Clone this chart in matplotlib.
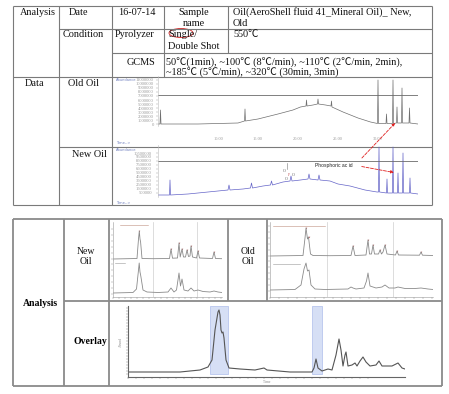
import numpy as np
import matplotlib.pyplot as plt
from matplotlib.patches import Ellipse

plt.rcParams['font.family'] = ['Liberation Serif', 'Noto Sans CJK SC', 'DejaVu Sans']

W, H = 449, 394

# ---- big chromatograms (time, abundance) ----
old_t = [0, 0.4, 0.5, 0.6, 8, 16, 17.3, 17.4, 17.5, 20, 24, 27, 28.5, 29.6, 29.7, 29.8,
         31, 31.9, 32, 32.1, 33.5, 34.6, 34.7, 34.8, 37, 40, 42.5, 43.9, 44, 44.1,
         45.6, 45.7, 45.8, 46.9, 47, 47.1, 47.7, 47.8, 47.9, 48.7, 48.8, 48.9,
         50.2, 50.3, 50.4, 52]
old_a = [0, 0, 14, 0, 0, 1, 3, 15, 3, 5, 10, 14, 17, 18, 24, 18,
         19, 20, 25, 20, 19, 18, 23, 17, 12, 6, 2, 0.5, 44, 0.5,
         0.5, 10, 0.5, 0.5, 44, 0.5, 1, 17, 1, 1, 36, 1,
         1, 16, 1, 0]
new_t = [0, 2.3, 2.4, 2.5, 6, 10, 14, 14.2, 14.4, 17, 18.5, 18.7, 18.9, 21, 22.5, 22.7,
         22.9, 25, 26.4, 26.6, 26.8, 28.5, 30, 30.2, 30.4, 32, 32.2, 32.4, 34.4, 36,
         38.4, 41.4, 43.8, 44.1, 44.2, 44.3, 45.7, 45.8, 45.9, 46.9, 47, 47.1,
         47.9, 48, 48.1, 48.9, 49, 49.1, 50.3, 50.4, 50.5, 52]
new_a = [0, 0, 15, 0, 1, 3, 5, 10, 5, 6, 7, 12, 7, 9, 10, 14,
         10, 13, 14, 19, 14, 15, 16, 21, 16, 15, 20, 15, 14, 11,
         9, 5, 3, 3, 48, 3, 2, 16, 2, 2, 48, 2,
         2, 22, 2, 2, 42, 2, 2, 17, 2, 1]
old_ticks = [12, 20, 28, 36, 44]
old_tick_labels = ['10.00', '15.00', '20.00', '25.00', '30.00']

# ---- small chromatograms ----
ns_top_t = [0, 24, 25.5, 26.3, 27, 27.6, 29, 40, 56.5, 58, 59.5, 64.5, 66, 67.2, 69, 70.5,
            72.5, 74, 75.5, 77, 78, 79.5, 83.5, 85, 86.5, 99.5, 101, 102.5, 109]
ns_top_a = [0, 0.5, 20, 28, 20, 17, 0.5, 0.3, 0.5, 10, 0.8, 1, 16, 2, 10, 2,
            2, 9, 2.5, 3, 13, 2, 1, 8, 1, 0.5, 7, 0.5, 0.3]
ns_bot_t = [0, 20, 23.5, 25.5, 26.2, 27, 27.8, 30, 34, 45, 55, 58, 61, 63.5, 66, 67.5,
            69, 71, 75, 78, 81, 85, 90, 97, 101, 105, 109]
ns_bot_a = [1, 1.5, 5, 24, 31, 22, 18, 4, 2, 1.5, 2, 6, 2, 4, 21, 8,
            15, 4, 3, 6, 3, 4, 2.5, 2, 3, 2, 1.5]
os_top_t = [0, 33, 35, 36, 37.5, 38.5, 39.3, 40.5, 43, 60, 81, 83, 85, 96, 98, 99.5,
            101.5, 103, 104.5, 108.5, 110, 111.5, 113, 115, 117, 125.5, 127, 128.5,
            149.5, 151, 152.5, 163]
os_top_a = [0, 0.5, 18, 28, 17, 19, 12, 2, 0.5, 0.3, 0.5, 10, 0.5, 1, 16, 2,
            2, 11, 2, 2, 6, 2, 4, 11, 2, 1, 5, 1,
            0.8, 4, 0.8, 0.5]
os_bot_t = [0, 25, 31, 34, 36, 37.5, 39, 41, 45, 55, 78, 81, 83, 86, 94, 96.5,
            98, 100, 103, 106, 112, 115, 119, 125, 128, 135, 145, 151, 158, 163]
os_bot_a = [1, 1.5, 6, 22, 28, 20, 21, 6, 2, 1.5, 2, 4, 3, 2, 3, 10,
            18, 5, 4, 3, 4, 6, 3, 3, 4, 2.5, 2.5, 3, 2, 1.5]
ns_marks_t = [26, 58, 66, 69, 74, 78, 85, 101]
ns_marks_a = [28, 10, 16, 10, 9, 13, 8, 7]
os_marks_t = [36, 38.5, 83, 98, 103, 110, 115, 127, 151]
os_marks_a = [28, 19, 10, 16, 11, 6, 11, 5, 4]
ns_vlines = [40, 84]
os_vlines = [57, 123]

# ---- overlay ----
ov_t = [0, 52, 72, 80, 84, 87, 90, 91, 92, 93, 94, 95, 96, 98, 101, 112, 127, 136, 139,
        162, 184, 186, 188, 190, 194, 200, 204, 208, 211, 213, 215, 217, 218, 220, 224,
        227, 229, 232, 235, 238, 242, 248, 251, 254, 264, 270, 274, 277]
ov_a = [5, 5, 7, 10, 17, 47, 65, 67, 62, 47, 44, 45, 39, 17, 9, 8, 7, 9, 7,
        5, 5, 9, 18, 9, 6, 8, 7, 22, 38, 27, 11, 22, 25, 11, 12,
        14, 11, 16, 20, 15, 11, 12, 16, 11, 11, 14, 9, 8]
ov_spans = [(82, 100), (184, 194)]

fig = plt.figure(figsize=(W / 100, H / 100), dpi=100)
base = fig.add_axes([0, 0, 1, 1])
base.set_xlim(0, W)
base.set_ylim(H, 0)
base.axis('off')


def px_axes(x0, y0, x1, y1):
    ax = fig.add_axes([x0 / W, 1 - y1 / H, (x1 - x0) / W, (y1 - y0) / H])
    ax.patch.set_alpha(0)
    for s in ax.spines.values():
        s.set_visible(False)
    ax.set_xticks([])
    ax.set_yticks([])
    return ax


# table rules
t1 = [((13, 6), (432, 6)), ((13, 205), (432, 205)), ((13, 6), (13, 205)), ((432, 6), (432, 205)),
      ((59, 6), (59, 205)), ((112, 6), (112, 205)), ((164, 6), (164, 77)), ((228, 6), (228, 53)),
      ((59, 29), (432, 29)), ((112, 53), (432, 53)), ((13, 77), (432, 77)), ((59, 147), (432, 147))]
t2 = [((13, 219), (442, 219)), ((13, 386), (442, 386)), ((13, 219), (13, 386)), ((442, 219), (442, 386)),
      ((64, 219), (64, 386)), ((109, 219), (109, 386)), ((228, 219), (228, 301)),
      ((267, 219), (267, 301)), ((64, 301), (442, 301))]
for (a, b) in t1:
    base.plot([a[0], b[0]], [a[1], b[1]], color='#7a7a7a', lw=0.8, solid_capstyle='butt')
for (a, b) in t2:
    base.plot([a[0], b[0]], [a[1], b[1]], color='#8a8a8a', lw=1.3, solid_capstyle='butt')

fs = 7.4
cells = [
    (20, 12, 'Analysis', 'left'), (78, 12, 'Date', 'center'), (118, 12, '16-07-14', 'left'),
    (194, 12, 'Sample', 'center'), (194, 23, 'name', 'center'),
    (233, 12, 'Oil(AeroShell fluid 41_Mineral Oil)_ New,', 'left'), (233, 23, 'Old', 'left'),
    (63, 34, 'Condition', 'left'), (115, 34, 'Pyrolyzer', 'left'),
    (168, 34, 'Single/', 'left'), (168, 46, 'Double Shot', 'left'), (233, 34, '550℃', 'left'),
    (127, 62, 'GCMS', 'left'),
    (166, 62, '50℃(1min), ~100℃ (8℃/min), ~110℃ (2℃/min, 2min),', 'left'),
    (166, 72, '~185℃ (5℃/min), ~320℃ (30min, 3min)', 'left'),
    (35, 83, 'Data', 'center'), (83, 83, 'Old Oil', 'center'), (89, 154, 'New Oil', 'center'),
]
for x, y, s, ha in cells:
    base.text(x, y, s, ha=ha, va='center', fontsize=fs, color='#111111')
for x, y, s in [(86, 251, 'New'), (86, 262, 'Oil'), (248, 251, 'Old'), (248, 262, 'Oil')]:
    base.text(x, y, s, ha='center', va='center', fontsize=7, color='#111111')
base.text(40, 304, 'Analysis', ha='center', va='center', fontsize=7, fontweight='bold')
base.text(90, 341, 'Overlay', ha='center', va='center', fontsize=7, fontweight='bold')
base.add_patch(Ellipse((181, 33), 24, 9, fill=False, ec='#d02020', lw=0.6))

tiny = dict(fontsize=2.6, color='#7080c0', family='DejaVu Sans')
base.text(116, 80, 'Abundance', va='center', **tiny)
base.text(116, 143, 'Time-->', va='center', **tiny)
base.text(116, 150, 'Abundance', va='center', **tiny)
base.text(116, 203, 'Time-->', va='center', **tiny)

# ---- old oil ----
ax_old = px_axes(158, 76, 418, 126)
ax_old.plot(old_t, old_a, color='#6f6f6f', lw=0.5)
ax_old.axhline(29, color='#6a6a6a', lw=0.6)
ax_old.set_xlim(0, 52)
ax_old.set_ylim(-2, 48)
ax_old.spines['left'].set_visible(True)
ax_old.spines['left'].set_color('#bbbbbb')
ax_old.spines['left'].set_linewidth(0.4)
ax_old.set_yticks(np.arange(0, 48, 4))
ax_old.set_yticklabels([f'{int(v * 250000)}' for v in np.arange(0, 48, 4)])
ax_old.set_xticks(old_ticks)
ax_old.set_xticklabels(old_tick_labels)
ax_old.tick_params(axis='y', length=1.5, width=0.3, labelsize=3.3, colors='#999999', pad=1.5)
ax_old.tick_params(axis='x', length=0, labelsize=3.2, colors='#999999', pad=8)

# ---- new oil ----
ax_new = px_axes(158, 145, 418, 197)
ax_new.plot(new_t, new_a, color='#6464c8', lw=0.5)
ax_new.axhline(34, color='#6a6a6a', lw=0.6)
ax_new.set_xlim(0, 52)
ax_new.set_ylim(-2, 50)
ax_new.spines['left'].set_visible(True)
ax_new.spines['left'].set_color('#bbbbbb')
ax_new.spines['left'].set_linewidth(0.4)
ax_new.set_yticks(np.arange(2, 46, 4))
ax_new.set_yticklabels([f'{int(v * 250000)}' for v in np.arange(2, 46, 4)])
ax_new.tick_params(axis='y', length=1.5, width=0.3, labelsize=3.3, colors='#999999', pad=3)
ax_new.text(31.4, 29, 'Phosphoric ac id', fontsize=3.6, family='Liberation Sans',
            va='center', ha='left', color='#222222')
arrow = dict(arrowstyle='-|>', color='#e02020', lw=0.6, ls='--', mutation_scale=4)
ax_new.annotate('', xy=(47.8, 3), xycoords=ax_old.transData, xytext=(40.4, 35),
                textcoords='data', arrowprops=arrow, annotation_clip=False)
ax_new.annotate('', xy=(47.7, 22), xytext=(40.2, 29), arrowprops=arrow, annotation_clip=False)
# small structure sketch
ax_new.text(25.2, 24, 'O', fontsize=3, ha='center', va='center', color='#555555')
ax_new.text(27.0, 20, 'O', fontsize=3, ha='center', va='center', color='#555555')
ax_new.text(25.6, 16, 'O', fontsize=3, ha='center', va='center', color='#555555')
ax_new.text(26.2, 20, 'P', fontsize=2.6, ha='center', va='center', color='#c05050')
ax_new.plot([25.8, 25.8], [26, 32], color='#777777', lw=0.4)


def small(ax, t, a, xl, yl, vlines, color='#8a8a8a'):
    for v in vlines:
        ax.axvline(v, color='#cfcfcf', lw=0.5)
    ax.plot(t, a, color=color, lw=0.6)
    ax.set_xlim(*xl)
    ax.set_ylim(*yl)
    ax.spines['left'].set_visible(True)
    ax.spines['left'].set_color('#9a9a9a')
    ax.spines['left'].set_linewidth(0.4)


ns_top = px_axes(113, 222, 222, 260)
small(ns_top, ns_top_t, ns_top_a, (0, 109), (-1, 37), ns_vlines)
ns_top.scatter(ns_marks_t, ns_marks_a, s=1.2, color='#b05050', marker='v', lw=0)
ns_top.plot([7, 35], [34, 34], color='#c09080', lw=0.4)
ns_bot = px_axes(113, 260, 222, 297)
small(ns_bot, ns_bot_t, ns_bot_a, (0, 109), (-3, 34), ns_vlines)
ns_bot.plot([2, 12], [31, 31], color='#999999', lw=0.4)
ns_bot.spines['bottom'].set_visible(True)
ns_bot.spines['bottom'].set_linewidth(0.4)
ns_bot.spines['bottom'].set_color('#9a9a9a')
ns_bot.set_xticks(np.arange(0, 109, 6))
ns_bot.tick_params(axis='x', length=1.2, width=0.3, labelbottom=False, colors='#888888')
ns_bot.set_yticks(np.arange(0, 34, 6))
ns_top.set_yticks(np.arange(0, 36, 6))
for ax in (ns_top, ns_bot):
    ax.tick_params(axis='y', length=1.2, width=0.3, labelleft=False, colors='#888888')

os_top = px_axes(270, 222, 433, 258)
small(os_top, os_top_t, os_top_a, (0, 163), (-2, 34), os_vlines)
os_top.scatter(os_marks_t, os_marks_a, s=1.2, color='#b05050', marker='v', lw=0)
os_top.plot([3, 55], [30, 30], color='#c09080', lw=0.4)
os_bot = px_axes(270, 258, 433, 297)
small(os_bot, os_bot_t, os_bot_a, (0, 163), (-6, 33), os_vlines)
os_bot.plot([3, 30], [27, 27], color='#999999', lw=0.4)
os_bot.spines['bottom'].set_visible(True)
os_bot.spines['bottom'].set_linewidth(0.4)
os_bot.spines['bottom'].set_color('#9a9a9a')
os_bot.set_xticks(np.arange(0, 163, 9))
os_bot.tick_params(axis='x', length=1.2, width=0.3, labelbottom=False, colors='#888888')
os_bot.set_yticks(np.arange(0, 33, 6))
os_top.set_yticks(np.arange(0, 33, 6))
for ax in (os_top, os_bot):
    ax.tick_params(axis='y', length=1.2, width=0.3, labelleft=False, colors='#888888')

# ---- overlay ----
ov = px_axes(128, 306, 405, 377)
for x0, x1 in ov_spans:
    ov.axvspan(x0, x1, ymin=3 / 71, ymax=1, facecolor='#d6dff5', edgecolor='#b8c6ee', lw=0.6)
ov.plot(ov_t, ov_a, color='#555555', lw=0.8)
ov.set_xlim(0, 277)
ov.set_ylim(0, 71)
for s in ('left', 'bottom'):
    ov.spines[s].set_visible(True)
    ov.spines[s].set_color('#666666')
    ov.spines[s].set_linewidth(0.8)
ov.set_yticks(np.arange(3, 70, 3))
ov.set_xticks(np.arange(0, 244, 8))
ov.tick_params(length=1.3, width=0.3, labelleft=False, labelbottom=False, colors='#777777')
ov.set_xlabel('Time', fontsize=2.6, color='#888888', labelpad=1)
ov.set_ylabel('Abund', fontsize=2.6, color='#888888', labelpad=2)

fig.savefig('out.png', dpi=100)
